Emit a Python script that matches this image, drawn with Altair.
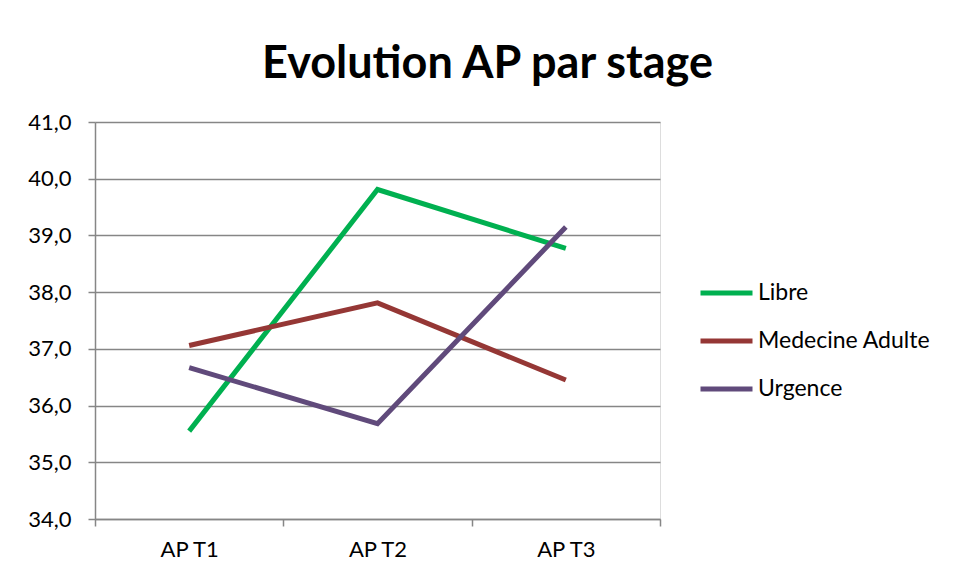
import altair as alt
import pandas as pd

stages = ["AP T1", "AP T2", "AP T3"]
series_names = ["Libre", "Medecine Adulte", "Urgence"]
libre = [35.55, 39.81, 38.77]
medecine = [37.06, 37.81, 36.45]
urgence = [36.67, 35.68, 39.15]
colors = ["#00B050", "#953735", "#604A7B"]
y_ticks = [34, 35, 36, 37, 38, 39, 40, 41]

rows = []
for name, vals in zip(series_names, [libre, medecine, urgence]):
    for s, v in zip(stages, vals):
        rows.append({"stage": s, "serie": name, "value": v})
df = pd.DataFrame(rows)

FONT = "Lato"

chart = alt.Chart(df).mark_line(strokeWidth=5, strokeCap="butt", strokeJoin="miter").encode(
    x=alt.X("stage:N", sort=stages, bandPosition=0.5,
            scale=alt.Scale(type="band", paddingInner=0, paddingOuter=0),
            axis=alt.Axis(title=None, labelAngle=0, tickBand="extent", grid=False,
                          labelFontSize=22, labelPadding=13, tickSize=7,
                          labelColor="#000000", domainColor="#868686", tickColor="#868686",
                          domainWidth=1.5, tickWidth=1.5, labelFont=FONT)),
    y=alt.Y("value:Q", scale=alt.Scale(domain=[34, 41], nice=False, zero=False),
            axis=alt.Axis(title=None, values=y_ticks,
                          labelExpr="replace(format(datum.value, '.1f'), '.', ',')",
                          labelFontSize=22, labelPadding=17, tickSize=7,
                          labelColor="#000000", domainColor="#868686", tickColor="#868686",
                          gridColor="#868686", gridWidth=1.5, domainWidth=1.5, tickWidth=1.5,
                          labelFont=FONT)),
    color=alt.Color("serie:N", sort=series_names,
                    scale=alt.Scale(domain=series_names, range=colors),
                    legend=alt.Legend(title=None, orient="none", legendX=603, legendY=159,
                                      symbolType="stroke", symbolSize=2704, symbolStrokeWidth=5,
                                      labelFontSize=23, labelFont=FONT, labelColor="#000000",
                                      labelOffset=3, clipHeight=24, rowPadding=24,
                                      labelLimit=300)),
).properties(
    width=565,
    height=397,
    title=alt.TitleParams("Evolution AP par stage", fontSize=45, font=FONT, fontWeight="bold",
                          color="#000000", anchor="middle", dx=110, offset=24),
    autosize=alt.AutoSizeParams(type="none"),
    padding={"left": 87, "top": 114, "right": 289, "bottom": 51},
).configure_view(stroke=None).configure(background="#FFFFFF")

chart.save("out.html", embed_options={"renderer": "svg", "actions": False})
